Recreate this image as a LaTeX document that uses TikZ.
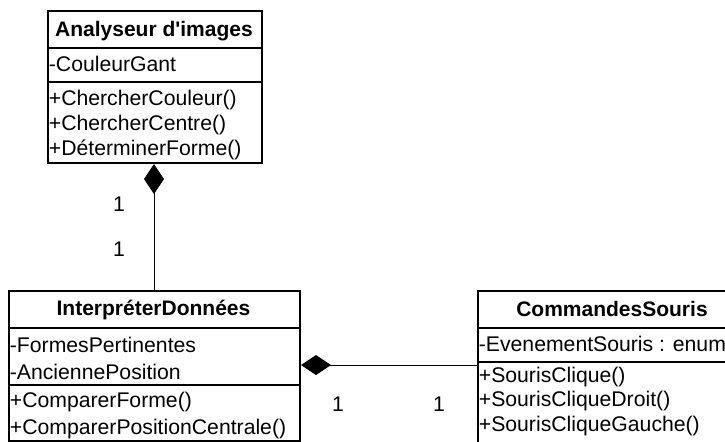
\documentclass[tikz,border=0pt]{standalone}
\usepackage{fontspec}
\setmainfont{Liberation Sans}[Ligatures=TeXOff]
\usetikzlibrary{arrows.meta,calc}
\begin{document}
\begin{tikzpicture}[x=0.5pt,y=-0.5pt,
  font=\fontsize{10.6}{12}\selectfont,
  box/.style={draw=black, line width=1pt, inner sep=0pt, anchor=north west},
  sepline/.style={draw=black, line width=1pt},
  ttl/.style={font=\fontsize{10.5}{12}\selectfont\bfseries, inner sep=0pt, anchor=base},
  itm/.style={anchor=base west, inner sep=0pt},
  comp/.style={draw=black, line width=0.5pt, {Diamond[length=15pt,width=10pt,fill=black]}-},
  mult/.style={inner sep=0pt}]
\useasboundingbox (0,0) rectangle (725,441);
\clip (0,0) rectangle (725,441);
% Analyseur d'images
\node[box, minimum width=107pt, minimum height=76pt] (A) at (47,10) {};
\draw[sepline] (A.west |- 0,48) -- (A.east |- 0,48);
\draw[sepline] (A.west |- 0,82) -- (A.east |- 0,82);
\node[ttl] (At) at (154,36) {Analyseur d'images};
\node[itm] (Aa1) at (48.5,71.7) {-CouleurGant};
\node[itm] (Am1) at (48.5,105.5) {+ChercherCouleur()};
\node[itm] (Am2) at (48.5,130.5) {+ChercherCentre()};
\node[itm] (Am3) at (48.5,155) {+DéterminerForme()};
% InterpreterDonnees
\node[box, minimum width=145.5pt, minimum height=75pt] (B) at (8,290) {};
\draw[sepline] (B.west |- 0,328) -- (B.east |- 0,328);
\draw[sepline] (B.west |- 0,385) -- (B.east |- 0,385);
\node[ttl] (Bt) at (153.5,315.7) {InterpréterDonnées};
\node[itm] (Ba1) at (9.5,352.5) {-FormesPertinentes};
\node[itm] (Ba2) at (9.5,379.5) {-AnciennePosition};
\node[itm] (Bm1) at (9.5,407.5) {+ComparerForme()};
\node[itm] (Bm2) at (9.5,434.5) {+ComparerPositionCentrale()};
% CommandesSouris
\node[box, minimum width=135pt, minimum height=80pt] (C) at (477,290) {};
\draw[sepline] (C.west |- 0,327.5) -- (C.east |- 0,327.5);
\draw[sepline] (C.west |- 0,362) -- (C.east |- 0,362);
\node[ttl] (Ct) at (612,316) {CommandesSouris};
\node[itm] (Ca1) at (478.5,351.7) {-EvenementSouris : enum};
\node[itm] (Cm1) at (478.5,382.3) {+SourisClique()};
\node[itm] (Cm2) at (478.5,406.7) {+SourisCliqueDroit()};
\node[itm] (Cm3) at (478.5,431) {+SourisCliqueGauche()};
% connectors
\coordinate (hc) at (0,365);
\draw[comp] ([xshift=-0.5pt]A.south) -- ([xshift=-0.5pt]A.south |- B.north);
\draw[comp] (B.east |- hc) -- (C.west |- hc);
% multiplicities
\node[mult] (m1) at (119,204) {1};
\node[mult] (m2) at (119,249) {1};
\node[mult] (m3) at (338,404) {1};
\node[mult] (m4) at (439,404) {1};
\end{tikzpicture}
\end{document}
